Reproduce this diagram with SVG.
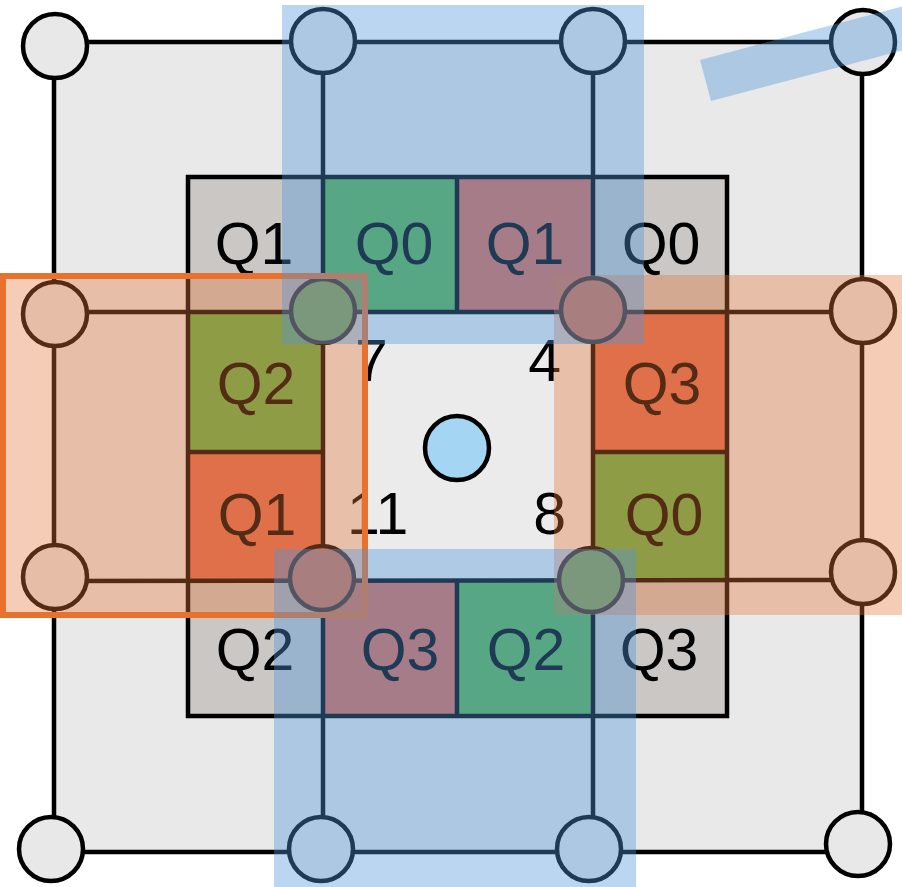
<svg xmlns="http://www.w3.org/2000/svg" width="902" height="887" viewBox="0 0 902 887">
<style>
.ln{stroke:#000;stroke-width:4.5;fill:none}
.nd{stroke:#000;stroke-width:4.5;fill:#e8e8e8}
.gray{fill:#cbc7c5}
.green{fill:#5db24e}
.orange{fill:#dd6d55}
.q{font-family:"Liberation Sans",Arial,sans-serif;font-size:59px;fill:#000;text-anchor:middle}
.n{font-family:"Liberation Sans",Arial,sans-serif;font-size:59px;fill:#000}
.ov-b{fill:#4f95da;fill-opacity:0.39}
.ov-o{fill:#e37739;fill-opacity:0.37}
</style>
<rect x="0" y="0" width="902" height="887" fill="#fff"/>
<rect x="54" y="42" width="808" height="810" fill="#e9e9e9"/>
<rect x="323" y="312" width="270" height="268" fill="#ebebeb"/>

<g id="cell-tl"><rect class="gray" x="188" y="177" width="135" height="135"/><text class="q" x="254" y="264">Q1</text></g>
<g id="cell-t2"><rect class="green" x="323" y="177" width="134" height="135"/><text class="q" x="394" y="264">Q0</text></g>
<g id="cell-t3"><rect class="orange" x="457" y="177" width="136" height="135"/><text class="q" x="525" y="264">Q1</text></g>
<g id="cell-tr"><rect class="gray" x="593" y="177" width="134" height="135"/><text class="q" x="661" y="264">Q0</text></g>
<g id="cell-l1"><rect class="green" x="188" y="312" width="135" height="140"/><text class="q" x="256" y="404">Q2</text></g>
<g id="cell-l2"><rect class="orange" x="188" y="452" width="135" height="128"/><text class="q" x="257" y="535">Q1</text></g>
<g id="cell-r1"><rect class="orange" x="593" y="312" width="134" height="140"/><text class="q" x="662" y="404">Q3</text></g>
<g id="cell-r2"><rect class="green" x="593" y="452" width="134" height="128"/><text class="q" x="664" y="535">Q0</text></g>
<g id="cell-bl"><rect class="gray" x="188" y="580" width="135" height="136"/><text class="q" x="255" y="670">Q2</text></g>
<g id="cell-b2"><rect class="orange" x="323" y="580" width="134" height="136"/><text class="q" x="400" y="670">Q3</text></g>
<g id="cell-b3"><rect class="green" x="457" y="580" width="136" height="136"/><text class="q" x="526" y="670">Q2</text></g>
<g id="cell-br"><rect class="gray" x="593" y="580" width="134" height="136"/><text class="q" x="659" y="670">Q3</text></g>

<g id="connectors">
<line class="ln" x1="54" y1="42" x2="862" y2="42"/>
<line class="ln" x1="51" y1="852" x2="860" y2="852"/>
<line class="ln" x1="54" y1="44" x2="54" y2="850"/>
<line class="ln" x1="862" y1="42" x2="862" y2="846"/>
<line class="ln" x1="323" y1="42" x2="323" y2="848"/>
<line class="ln" x1="593" y1="42" x2="593" y2="848"/>
<line class="ln" x1="54" y1="312" x2="863" y2="312"/>
<line class="ln" x1="54" y1="581" x2="863" y2="580"/>
<line class="ln" x1="457" y1="177" x2="457" y2="312"/>
<line class="ln" x1="457" y1="580" x2="457" y2="716"/>
<line class="ln" x1="188" y1="452" x2="323" y2="452"/>
<line class="ln" x1="593" y1="452" x2="727" y2="452"/>
<rect class="ln" x="188" y="177" width="539" height="539"/>
</g>

<g id="n-tl"><circle class="nd" cx="55" cy="46" r="32"/></g>
<g id="n-tr"><circle class="nd" cx="863" cy="42" r="32"/></g>
<g id="n-bl"><circle class="nd" cx="51" cy="849" r="32"/></g>
<g id="n-br"><circle class="nd" cx="858" cy="844" r="32"/></g>
<g id="n-t1"><circle class="nd" cx="323" cy="41" r="32"/></g>
<g id="n-t2"><circle class="nd" cx="593" cy="41" r="32"/></g>
<g id="n-b1"><circle class="nd" cx="321" cy="849" r="32"/></g>
<g id="n-b2"><circle class="nd" cx="589" cy="849" r="32"/></g>
<g id="n-l1"><circle class="nd" cx="55" cy="314" r="32"/></g>
<g id="n-l2"><circle class="nd" cx="55" cy="577" r="32"/></g>
<g id="n-r1"><circle class="nd" cx="863" cy="311" r="32"/></g>
<g id="n-r2"><circle class="nd" cx="863" cy="572" r="32"/></g>
<g id="n-i1"><circle class="nd" cx="323" cy="311" r="32" style="fill:#6aaf45"/></g>
<g id="n-i2"><circle class="nd" cx="593" cy="310" r="32" style="fill:#df6b4f"/></g>
<g id="n-i3"><circle class="nd" cx="322" cy="578" r="32" style="fill:#df6b4f"/></g>
<g id="n-i4"><circle class="nd" cx="591" cy="580" r="32" style="fill:#6aaf45"/></g>
<g id="n-center"><circle class="nd" cx="457" cy="448" r="32" style="fill:#a4d6f3"/></g>

<g id="labels">
<text class="n" x="355" y="381">7</text>
<text class="n" x="561" y="381" text-anchor="end">4</text>
<text class="n" x="347" y="534">11</text>
<text class="n" x="566" y="534" text-anchor="end">8</text>
</g>

<g id="overlays">
<rect class="ov-o" x="3" y="276" width="362" height="339" stroke="#e8712e" stroke-width="6"/>
<rect class="ov-o" x="554" y="275" width="348" height="340"/>
<rect class="ov-b" x="282" y="5" width="362" height="339"/>
<rect class="ov-b" x="274" y="549" width="362" height="338"/>
<polygon class="ov-b" points="700,60 711,101 930,43 919,2"/>
</g>
</svg>
